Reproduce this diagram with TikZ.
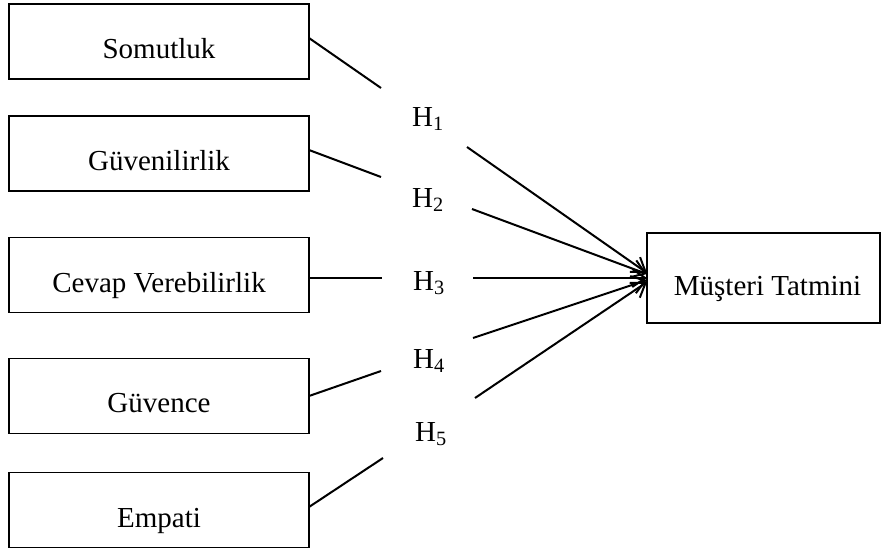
\documentclass[tikz,border=0pt]{standalone}
\usepackage{fontspec}
\setmainfont{Liberation Serif}
\usetikzlibrary{arrows.meta}
\begin{document}
\begin{tikzpicture}[x=1pt,y=-1pt,
  box/.style={draw,line width=1.7pt,minimum width=300pt,minimum height=75pt,inner sep=0pt,outer sep=0pt},
  lbl/.style={anchor=base,inner sep=0pt,font=\fontsize{29}{34}\selectfont},
  hyp/.style={anchor=base west,inner sep=0pt,font=\fontsize{29}{34}\selectfont},
  link/.style={line width=2pt},
  arr/.style={line width=2pt,-{Straight Barb[length=13pt,width=18pt,line width=2pt]}}]
\useasboundingbox (0,0) rectangle (882,551);
% left boxes
\node[box] (b1) at (159,41.5) {};
\node[box] (b2) at (159,153.5) {};
\node[box] (b3) at (159,275) {};
\node[box] (b4) at (159,396) {};
\node[box] (b5) at (159,510) {};
\node[box,minimum width=233pt,minimum height=90pt] (m) at (763.5,278) {};
% box labels
\node[lbl] at ([yshift=-16.5pt]b1.center) {Somutluk};
\node[lbl] at ([yshift=-16.5pt]b2.center) {Güvenilirlik};
\node[lbl] at ([yshift=-17pt]b3.center) {Cevap Verebilirlik};
\node[lbl] at ([yshift=-16pt]b4.center) {Güvence};
\node[lbl] at ([yshift=-17pt]b5.center) {Empati};
\node[lbl] at ([yshift=-17pt,xshift=4pt]m.center) {Müşteri Tatmini};
% hypothesis labels
\node[hyp] (h1) at (412,126) {H\textsubscript{1}};
\node[hyp] (h2) at (412,207) {H\textsubscript{2}};
\node[hyp] (h3) at (413,290) {H\textsubscript{3}};
\node[hyp] (h4) at (413,368) {H\textsubscript{4}};
\node[hyp] (h5) at (415,441) {H\textsubscript{5}};
% line end coordinates
\coordinate (e1) at (381,88);
\coordinate (e2) at (381,177);
\coordinate (e3) at (382,278);
\coordinate (e4) at (381,371);
\coordinate (e5) at (383,458);
\coordinate (s1) at (467,147);
\coordinate (s2) at (472,209);
\coordinate (s3) at (473,278);
\coordinate (s4) at (473,338);
\coordinate (s5) at (475,398);
% connectors from boxes
\draw[link] ([yshift=3.5pt]b1.east) -- (e1);
\draw[link] ([yshift=3.5pt]b2.east) -- (e2);
\draw[link] ([yshift=-3pt]b3.east) -- (e3);
\draw[link] (b4.east) -- (e4);
\draw[link] ([yshift=3pt]b5.east) -- (e5);
% arrows to the outcome
\draw[arr] (s1) -- ([yshift=5pt]m.west);
\draw[arr] (s2) -- ([yshift=4pt]m.west);
\draw[arr] (s3) -- (m.west);
\draw[arr] (s4) -- ([yshift=-2pt]m.west);
\draw[arr] (s5) -- ([yshift=-4pt]m.west);
\end{tikzpicture}
\end{document}
